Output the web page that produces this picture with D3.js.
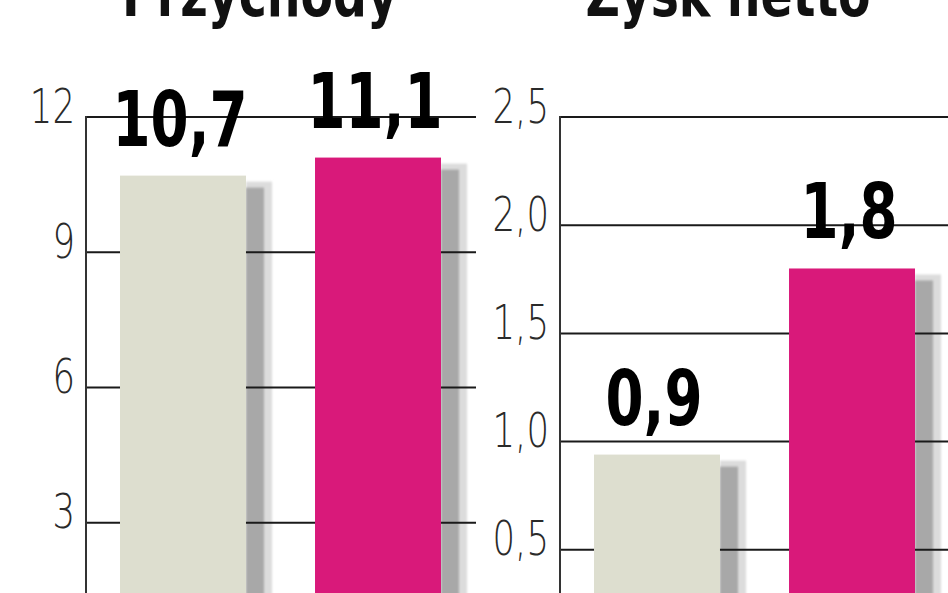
<!DOCTYPE html>
<html>
<head>
<meta charset="utf-8">
<script src="https://cdn.jsdelivr.net/npm/d3@7"></script>
<style>
  html, body { margin: 0; padding: 0; background: #fff; overflow: hidden; }
</style>
</head>
<body>
<script>
var titles = ["Przychody", "Zysk netto"];
var periods = ["poprzedni", "obecny"];
var revenueValues = [10.7, 11.1];
var profitValues = [0.94, 1.8];
var revenueTicks = [0, 3, 6, 9, 12];
var profitTicks = [0, 0.5, 1.0, 1.5, 2.0, 2.5];
var barColors = ["#dddecf", "#d9197a"];

var width = 948, height = 593;
var zeroY = 658, topY = 117;
var condensed = "DejaVu Sans Condensed, DejaVu Sans, sans-serif";

var svg = d3.select("body").append("svg")
  .attr("width", width)
  .attr("height", height);

var defs = svg.append("defs");
defs.append("filter").attr("id", "soft")
  .append("feGaussianBlur").attr("stdDeviation", 1.2);

function commaFmt(f) {
  return function(v) { return d3.format(f)(v).replace(".", ","); };
}

var panels = [
  {title: titles[0], values: revenueValues, ticks: revenueTicks, max: 12,
   axisX: 86, right: 476, titleX: 260, tickFmt: d3.format("d")},
  {title: titles[1], values: profitValues, ticks: profitTicks, max: 2.5,
   axisX: 560, right: 948, titleX: 728, tickFmt: commaFmt(".1f")}
];

panels.forEach(function(p) {
  var y = d3.scaleLinear().domain([0, p.max]).range([zeroY, topY]);
  var x = d3.scaleBand()
    .domain(periods)
    .range([p.axisX + 34, p.axisX + 34 + 321])
    .paddingInner(0.354)
    .paddingOuter(0);

  var g = svg.append("g");

  // title, cut by the top edge like the source
  g.append("text")
    .attr("transform", "translate(" + p.titleX + ",16) scale(0.85,1)")
    .attr("text-anchor", "middle")
    .attr("font-family", condensed)
    .attr("font-weight", "bold")
    .attr("font-size", 62)
    .attr("fill", "#111")
    .text(p.title);

  var data = p.values.map(function(v, i) { return {k: periods[i], v: v, c: barColors[i]}; });

  // shadows
  g.selectAll(".halo").data(data).enter().append("rect")
    .attr("x", function(d) { return x(d.k) + x.bandwidth(); })
    .attr("y", function(d) { return y(d.v) + 6; })
    .attr("width", 26)
    .attr("height", function(d) { return zeroY - y(d.v); })
    .attr("fill", "#dcdcdc")
    .attr("filter", "url(#soft)");
  g.selectAll(".shadow").data(data).enter().append("rect")
    .attr("x", function(d) { return x(d.k) + x.bandwidth(); })
    .attr("y", function(d) { return y(d.v) + 12; })
    .attr("width", 18)
    .attr("height", function(d) { return zeroY - y(d.v); })
    .attr("fill", "#a8a8a8")
    .attr("filter", "url(#soft)");

  // gridlines
  g.selectAll(".grid").data(p.ticks.filter(function(t) { return t > 0; })).enter().append("line")
    .attr("x1", p.axisX)
    .attr("x2", p.right)
    .attr("y1", function(t) { return y(t); })
    .attr("y2", function(t) { return y(t); })
    .attr("stroke", "#1a1a1a")
    .attr("stroke-width", 2);

  // y axis
  var axis = d3.axisLeft(y)
    .tickValues(p.ticks.filter(function(t) { return t > 0; }))
    .tickFormat(p.tickFmt)
    .tickSize(0)
    .tickPadding(0);
  var ag = g.append("g")
    .attr("transform", "translate(" + p.axisX + ",0)")
    .call(axis);
  ag.select(".domain").remove();
  ag.append("line")
    .attr("x1", 0).attr("x2", 0)
    .attr("y1", topY - 1).attr("y2", height)
    .attr("stroke", "#333")
    .attr("stroke-width", 2);
  ag.selectAll(".tick text")
    .attr("x", 0)
    .attr("dy", 0)
    .attr("transform", "translate(-11,5) scale(0.74,1)")
    .attr("font-family", "DejaVu Sans, sans-serif")
    .attr("font-size", 48)
    .attr("font-weight", 200)
    .attr("fill", "#2a2a2a");

  // bars
  g.selectAll(".bar").data(data).enter().append("rect")
    .attr("x", function(d) { return x(d.k); })
    .attr("y", function(d) { return y(d.v); })
    .attr("width", x.bandwidth())
    .attr("height", function(d) { return zeroY - y(d.v); })
    .attr("fill", function(d) { return d.c; });

  // value labels
  g.selectAll(".val").data(data).enter().append("text")
    .attr("transform", function(d) {
      return "translate(" + (x(d.k) + x.bandwidth() / 2 - 3) + "," + (y(d.v) - 30) + ") scale(0.8,1)";
    })
    .attr("text-anchor", "middle")
    .attr("font-family", condensed)
    .attr("font-weight", "bold")
    .attr("font-size", 76)
    .attr("fill", "#000")
    .text(function(d) { return commaFmt(".1f")(d.v); });
});
</script>
</body>
</html>
